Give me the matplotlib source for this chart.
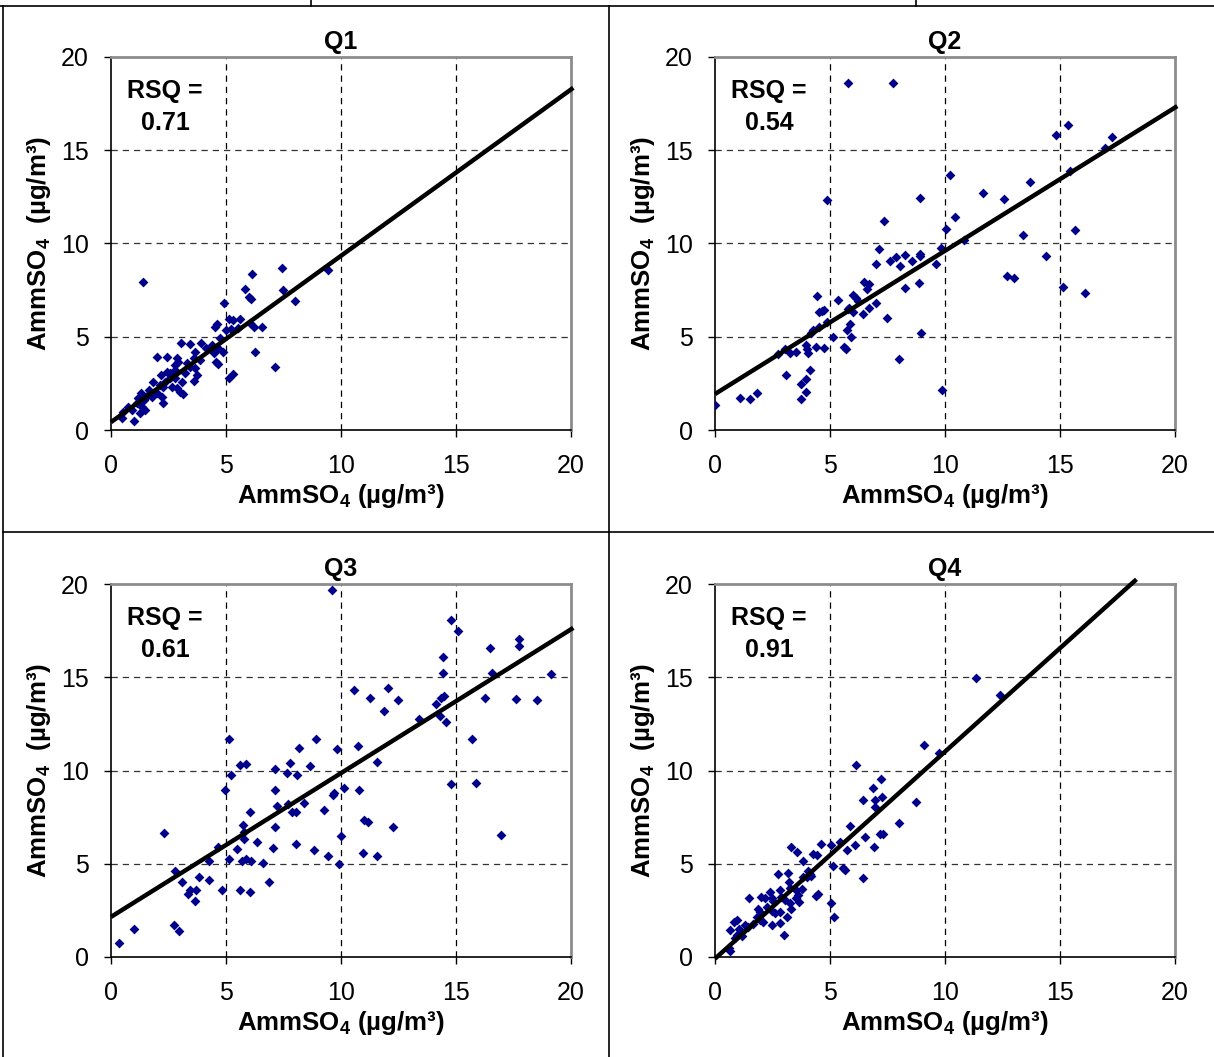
import numpy as np
import matplotlib.pyplot as plt
from matplotlib.lines import Line2D

plt.rcParams['font.family'] = ['Liberation Sans', 'DejaVu Sans']
plt.rcParams['mathtext.fontset'] = 'custom'
plt.rcParams['mathtext.rm'] = 'Liberation Sans:bold'
plt.rcParams['mathtext.default'] = 'rm'

titles = ['Q1', 'Q2', 'Q3', 'Q4']
rsq = ['0.71', '0.54', '0.61', '0.91']

# regression lines: intercept, slope
intercepts = [0.42, 1.93, 2.15, -0.09]
slopes = [0.892, 0.768, 0.771, 1.11]

q1_x = [1.38, 4.92, 6.13, 5.84, 5.98, 6.10, 7.45, 7.47, 5.11, 5.30,
        5.62, 4.53, 4.63, 5.01, 5.23, 5.52, 6.06, 6.20, 6.56, 6.25,
        7.12, 5.29, 5.11, 4.75, 4.65, 4.87, 4.46, 4.57, 4.65, 4.39,
        3.92, 4.14, 3.44, 3.05, 2.43, 1.99, 2.86, 2.93, 2.79, 3.66,
        3.59, 3.88, 3.30, 3.44, 3.66, 3.73, 3.63, 3.22, 3.08, 2.79,
        2.57, 2.43, 2.16, 3.01, 3.12, 2.86, 2.64, 2.28, 2.14, 1.84,
        1.99, 2.21, 2.25, 1.67, 1.31, 1.60, 1.45, 1.19, 1.12, 1.34,
        1.48, 1.26, 1.02, 0.76, 0.54, 0.49, 0.90, 1.77, 2.35, 2.57,
        2.79, 9.43, 7.99]
q1_y = [7.95, 6.79, 8.35, 7.56, 7.11, 7.01, 8.68, 7.51, 5.95, 5.90,
        5.93, 5.54, 5.68, 5.36, 5.42, 5.45, 5.76, 5.50, 5.54, 4.20,
        3.40, 2.98, 2.77, 4.92, 4.38, 4.16, 4.11, 3.66, 3.52, 4.56,
        4.68, 4.38, 4.61, 4.68, 3.93, 3.93, 3.84, 3.66, 3.49, 4.16,
        3.84, 3.75, 3.57, 3.40, 3.31, 2.95, 2.63, 3.04, 2.59, 2.81,
        3.04, 3.13, 2.95, 2.06, 1.93, 2.23, 2.32, 2.32, 2.41, 2.59,
        1.97, 1.79, 1.43, 2.14, 1.97, 1.88, 1.61, 1.70, 1.43, 1.25,
        1.07, 0.89, 0.50, 1.25, 0.98, 0.63, 1.07, 1.79, 2.59, 2.77,
        3.22, 8.59, 6.92]

q2_x = [5.80, 7.76, 15.35, 14.84, 17.26, 16.94, 15.42, 10.23, 13.69, 11.67,
        12.58, 4.89, 8.93, 10.43, 7.34, 10.04, 15.66, 13.39, 10.82, 7.12,
        9.82, 8.93, 8.93, 8.25, 7.86, 7.61, 8.57, 7.02, 8.06, 9.60,
        14.40, 12.68, 12.98, 8.89, 6.48, 6.69, 6.61, 8.27, 15.13, 16.08,
        6.02, 4.45, 6.14, 6.20, 5.34, 6.98, 5.83, 5.78, 6.68, 5.99,
        4.51, 4.65, 4.75, 6.44, 7.47, 4.85, 5.87, 4.51, 4.24, 4.19,
        5.75, 5.92, 5.14, 8.96, 5.61, 5.70, 4.40, 4.73, 3.96, 3.99,
        4.04, 3.04, 3.26, 3.52, 2.76, 8.01, 4.14, 3.08, 3.94, 3.72,
        3.97, 3.75, 9.86, 1.84, 1.54, 1.07, 0.00]
q2_y = [18.60, 18.60, 16.37, 15.82, 15.73, 15.10, 13.91, 13.66, 13.28, 12.73,
        12.37, 12.32, 12.44, 11.44, 11.19, 10.77, 10.74, 10.43, 10.21, 9.70,
        9.77, 9.43, 9.34, 9.36, 9.28, 9.05, 9.06, 8.92, 8.79, 8.92,
        9.32, 8.28, 8.17, 7.87, 7.96, 7.83, 7.56, 7.63, 7.68, 7.36,
        7.23, 7.19, 7.07, 6.92, 6.98, 6.83, 6.56, 6.47, 6.56, 6.34,
        6.34, 6.38, 6.41, 6.23, 6.01, 5.78, 5.70, 5.50, 5.38, 5.18,
        5.34, 5.01, 5.01, 5.20, 4.43, 4.32, 4.43, 4.38, 4.56, 4.34,
        4.11, 4.34, 4.11, 4.20, 4.09, 3.80, 3.23, 2.96, 2.74, 2.47,
        2.05, 1.65, 2.14, 1.98, 1.65, 1.74, 1.33]

q3_x = [9.60, 14.77, 15.07, 17.76, 17.76, 16.49, 14.45, 14.45, 16.55, 19.14,
        10.58, 12.04, 11.28, 12.48, 14.33, 14.48, 14.11, 16.27, 17.61, 18.54,
        11.89, 13.38, 14.31, 14.56, 5.11, 8.91, 15.70, 8.18, 9.82, 10.75,
        5.61, 5.89, 7.79, 11.57, 8.67, 5.20, 7.13, 7.67, 8.08, 4.96,
        7.11, 10.14, 10.77, 14.77, 15.87, 9.65, 9.69, 7.23, 7.71, 8.38,
        7.86, 8.04, 6.06, 9.26, 11.01, 11.16, 5.74, 7.13, 12.28, 16.97,
        5.79, 2.30, 9.99, 6.35, 5.77, 8.04, 4.64, 5.47, 7.06, 8.84,
        10.97, 11.57, 9.43, 4.28, 5.11, 5.71, 5.88, 6.10, 6.59, 9.92,
        2.79, 3.81, 4.26, 3.10, 6.88, 3.44, 3.34, 3.69, 4.83, 5.62,
        6.06, 3.64, 2.76, 2.96, 1.00, 0.36]
q3_y = [19.69, 18.05, 17.47, 17.03, 16.70, 16.56, 16.10, 15.21, 15.21, 15.17,
        14.32, 14.44, 13.88, 13.77, 13.90, 13.99, 13.57, 13.90, 13.83, 13.77,
        13.19, 12.75, 12.90, 12.62, 11.68, 11.69, 11.69, 11.20, 11.15, 11.31,
        10.29, 10.35, 10.38, 10.46, 10.22, 9.78, 10.09, 9.87, 9.74, 8.94,
        8.98, 9.05, 8.93, 9.29, 9.34, 8.70, 8.77, 8.12, 8.18, 8.27,
        7.80, 7.80, 7.80, 7.89, 7.32, 7.23, 7.10, 6.99, 6.98, 6.52,
        6.70, 6.67, 6.48, 6.19, 6.34, 6.07, 5.88, 5.79, 5.83, 5.72,
        5.58, 5.43, 5.39, 5.15, 5.25, 5.15, 5.25, 5.15, 5.03, 4.97,
        4.61, 4.28, 4.15, 4.01, 4.01, 3.61, 3.37, 3.57, 3.61, 3.61,
        3.46, 3.02, 1.73, 1.42, 1.51, 0.73]

q4_x = [6.87, 7.23, 6.44, 6.97, 7.26, 6.94, 5.86, 7.16, 7.30, 6.54,
        6.10, 6.91, 5.42, 5.74, 4.63, 5.06, 3.30, 3.57, 4.27, 4.44,
        3.83, 5.57, 5.64, 5.13, 6.44, 2.75, 3.18, 4.05, 4.12, 3.98,
        4.19, 3.83, 3.21, 2.82, 3.25, 3.51, 3.80, 4.48, 4.41, 3.59,
        3.51, 3.66, 2.39, 2.02, 2.17, 1.48, 2.46, 2.53, 2.89, 3.04,
        3.25, 3.30, 1.88, 1.95, 2.24, 2.46, 2.60, 2.82, 3.11, 1.81,
        1.95, 2.10, 2.46, 2.82, 1.66, 1.42, 1.30, 0.94, 0.82, 0.65,
        1.04, 0.94, 0.87, 1.16, 3.01, 5.06, 5.16, 0.62, 0.65, 11.33,
        12.38, 9.10, 9.74, 6.15, 8.72, 8.01]
q4_y = [9.07, 9.55, 8.43, 8.40, 8.57, 8.04, 7.01, 6.58, 6.58, 6.43,
        5.99, 5.90, 6.17, 5.76, 6.08, 5.99, 5.90, 5.63, 5.51, 5.45,
        5.15, 4.79, 4.69, 4.87, 4.24, 4.47, 4.51, 4.62, 4.47, 4.30,
        4.33, 4.30, 4.03, 3.58, 3.71, 3.58, 3.67, 3.37, 3.26, 3.32,
        3.14, 2.96, 3.49, 3.23, 3.14, 3.19, 3.14, 2.99, 3.23, 3.05,
        2.87, 2.60, 2.60, 2.42, 2.69, 2.48, 2.34, 2.42, 2.16, 2.16,
        1.98, 1.89, 1.71, 1.84, 1.76, 1.62, 1.71, 2.01, 1.89, 1.44,
        1.48, 1.18, 1.00, 1.12, 1.18, 2.87, 2.12, 0.46, 0.34, 14.94,
        14.04, 11.35, 10.95, 10.27, 8.31, 7.19]

xs = [q1_x, q2_x, q3_x, q4_x]
ys = [q1_y, q2_y, q3_y, q4_y]

W, H = 1214, 1057
fig = plt.figure(figsize=(W / 100, H / 100), dpi=100)

def fx(px):
    return px / W

def fy(py):
    return 1 - py / H

# table borders (right and bottom edges are cut off in the original)
def hline(y, x0, x1):
    fig.add_artist(Line2D([fx(x0), fx(x1)], [fy(y), fy(y)], color='black', lw=1.2))

def vline(x, y0, y1):
    fig.add_artist(Line2D([fx(x), fx(x)], [fy(y0), fy(y1)], color='black', lw=1.2))

hline(6, 0, W)
hline(532, 3, W)
vline(3, 6, H)
vline(609, 6, H)
vline(311, 0, 6)
vline(916, 0, 6)

lefts = [111, 715, 111, 715]
tops = [57, 57, 584, 584]
aw, ah = 460, 373

xlab = r'AmmSO$_4$ (µg/m³)'
ylab = r'AmmSO$_4$  (µg/m³)'

for i in range(4):
    ax = fig.add_axes([fx(lefts[i]), fy(tops[i] + ah), aw / W, ah / H])
    ax.set_xlim(0, 20)
    ax.set_ylim(0, 20)
    ax.set_xticks([0, 5, 10, 15, 20])
    ax.set_yticks([0, 5, 10, 15, 20])
    ax.tick_params(direction='out', length=5, width=1, labelsize=18)
    ax.tick_params(axis='x', pad=12)
    ax.tick_params(axis='y', pad=11)
    for v in [5, 10, 15]:
        ax.axvline(v, color='black', lw=0.9, ls=(0, (5, 4)), zorder=1)
        ax.axhline(v, color='#333333', lw=0.9, ls=(0, (5, 4)), zorder=1)
    ax.spines['left'].set_color('black')
    ax.spines['bottom'].set_color('black')
    ax.spines['left'].set_linewidth(1.2)
    ax.spines['bottom'].set_linewidth(1.2)
    ax.spines['top'].set_color('#8c8c8c')
    ax.spines['right'].set_color('#8c8c8c')
    ax.spines['top'].set_linewidth(2)
    ax.spines['right'].set_linewidth(2)

    ax.scatter(xs[i], ys[i], marker='D', s=25, color='#00008B', zorder=3, linewidths=0)

    b, m = intercepts[i], slopes[i]
    x_end = min(20.1, (20.25 - b) / m)
    lx = np.array([0, x_end])
    ax.plot(lx, b + m * lx, color='black', lw=3.2, zorder=4, clip_on=False,
            solid_capstyle='butt')

    ax.set_title(titles[i], fontsize=18, fontweight='bold', pad=6)
    ax.set_xlabel(xlab, fontsize=18.6, fontweight='bold', labelpad=3)
    ax.set_ylabel(ylab, fontsize=18.6, fontweight='bold', labelpad=6)
    ax.text(2.35, 17.3, 'RSQ =\n' + rsq[i], fontsize=18, fontweight='bold',
            ha='center', va='center', linespacing=1.42)

fig.savefig('out.png', dpi=100)
